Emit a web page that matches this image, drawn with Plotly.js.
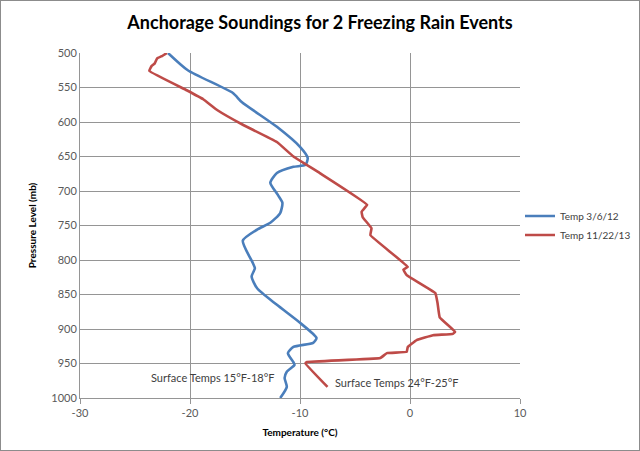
<!DOCTYPE html>
<html>
<head>
<meta charset="utf-8">
<script src="https://cdn.plot.ly/plotly-3.0.1.min.js"></script>
<style>
html,body{margin:0;padding:0;background:#fff;}
#chart{width:638px;height:449px;border:1px solid #8c8c8c;}
</style>
</head>
<body>
<div id="chart"></div>
<script>
// Series 1: Temp 3/6/12
const blueTemp = [-22.0, -20.2, -16.1, -15.3, -12.1, -10.0, -9.3, -9.5, -10.6, -12.1, -12.7, -12.0, -11.6, -11.8, -12.7, -13.9, -15.2, -14.3, -14.1, -14.4, -13.9, -12.1, -10.0, -8.5, -8.8, -10.6, -11.1, -10.6, -10.5, -11.2, -11.4, -11.2, -11.8];
const bluePres = [500, 525, 558, 571, 607, 636, 652, 662, 665, 674, 688, 706, 717, 732, 746, 756, 772, 804, 812, 824, 841, 865, 891, 913, 920, 926, 935, 948, 952, 962, 971, 984, 1000];
// Series 2: Temp 11/22/13
const redTemp = [-22.1, -22.5, -23.0, -23.2, -23.5, -23.7, -20.3, -18.8, -17.5, -15.2, -12.1, -10.6, -8.2, -3.9, -4.4, -4.3, -3.5, -3.6, -0.2, -0.6, -0.3, 2.3, 2.5, 2.7, 4.1, 3.9, 2.1, 0.6, -0.2, -0.3, -2.1, -2.7, -9.4, -9.5, -7.5];
const redPres = [500, 504, 508, 515, 519, 526, 554, 567, 583, 604, 629, 650, 674, 720, 730, 738, 754, 764, 810, 814, 822, 848, 862, 883, 904, 907, 909, 916, 926, 933, 935, 942, 948, 950, 984];

const seriesNames = ["Temp 3/6/12", "Temp 11/22/13"];
const xTicks = [-30, -20, -10, 0, 10];
const yTicks = [500, 550, 600, 650, 700, 750, 800, 850, 900, 950, 1000];
const noteTexts = ["Surface Temps 15°F-18°F", "Surface Temps 24°F-25°F"];
const notePos = [[-17.9, 971], [-1.2, 977]];

const FONT = "Lato, 'Open Sans', sans-serif";

const traces = [
  {x: blueTemp, y: bluePres, name: seriesNames[0], mode: "lines",
   line: {color: "#4A7EBB", width: 2.6, shape: "spline", smoothing: 0.6}},
  {x: redTemp, y: redPres, name: seriesNames[1], mode: "lines",
   line: {color: "#BE4B48", width: 2.6, shape: "spline", smoothing: 0.25}}
];

const layout = {
  width: 638, height: 449,
  margin: {l: 79, r: 119, t: 52, b: 52, autoexpand: false},
  paper_bgcolor: "#fff", plot_bgcolor: "#fff",
  font: {family: FONT, color: "#404040"},
  title: {text: "<b>Anchorage Soundings for 2 Freezing Rain Events</b>",
          font: {family: FONT, size: 18, color: "#000"}, x: 0.5, xanchor: "center", y: 0.952, yanchor: "middle"},
  xaxis: {range: [-30, 10], tickvals: xTicks, ticktext: xTicks.map(String),
          showgrid: true, gridcolor: "#959595", gridwidth: 1, zeroline: false,
          showline: true, linecolor: "#959595", linewidth: 1,
          ticks: "outside", ticklen: 5, tickcolor: "#959595",
          tickfont: {size: 11, color: "#595959", family: FONT},
          title: {text: "<b>Temperature (°C)</b>", font: {size: 10, color: "#000", family: FONT}, standoff: 10}},
  yaxis: {range: [1000, 500], tickvals: yTicks, ticktext: yTicks.map(String),
          showgrid: true, gridcolor: "#959595", gridwidth: 1, zeroline: false,
          showline: true, linecolor: "#959595", linewidth: 1,
          ticks: "", ticklen: 0,
          tickfont: {size: 11, color: "#595959", family: FONT},
          title: {text: "<b>Pressure Level (mb)</b>", font: {size: 10, color: "#000", family: FONT}, standoff: 12}},
  legend: {x: 1.0, xanchor: "left", y: 0.5, yanchor: "middle",
           font: {size: 10, color: "#404040", family: FONT}, bgcolor: "rgba(0,0,0,0)",
           tracegroupgap: 0},
  showlegend: true,
  annotations: noteTexts.map((t, i) => ({
    x: notePos[i][0], y: notePos[i][1], xref: "x", yref: "y", text: t,
    showarrow: false, font: {size: 11, color: "#404040", family: FONT}
  }))
};

Plotly.newPlot("chart", traces, layout, {displayModeBar: false, staticPlot: true});
</script>
</body>
</html>
